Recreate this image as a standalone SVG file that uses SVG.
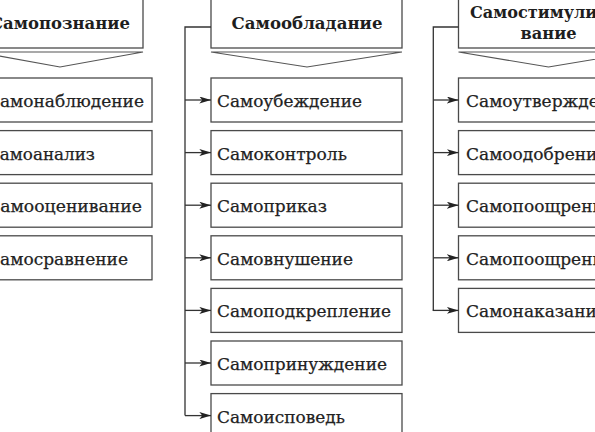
<svg xmlns="http://www.w3.org/2000/svg" width="595" height="432" viewBox="0 0 595 432">
<style>
.box{fill:#fff;stroke:#4a4a4a;stroke-width:1.3}
.chev{fill:none;stroke:#555;stroke-width:1.1;stroke-linejoin:miter}
.hd{font-family:"DejaVu Serif","Liberation Serif",serif;font-weight:bold;font-size:17px;fill:#1e1e1e}
.it{font-family:"DejaVu Serif","Liberation Serif",serif;font-size:17px;fill:#222;stroke:#222;stroke-width:0.25}
.ln{fill:none;stroke:#333;stroke-width:1.3}
.ar{fill:none;stroke:#333;stroke-width:1.3;marker-end:url(#ah)}
</style>
<defs>
<marker id="ah" viewBox="0 0 10 6" refX="10" refY="3" markerUnits="userSpaceOnUse" markerWidth="12" markerHeight="7" orient="auto">
<path d="M0,0 L10,3 L0,6 L2.5,3 z" fill="#222"/>
</marker>
</defs>
<rect width="595" height="432" fill="#fff"/>

<!-- Left column -->
<g id="samopoznanie">
<rect class="box" x="-23" y="-10" width="166" height="58"/>
<polygon class="chev" points="-23,52 143,52 60,67"/>
<text class="hd" x="-10" y="28.5" textLength="140" lengthAdjust="spacingAndGlyphs">Самопознание</text>
</g>
<g id="samonablyudenie">
<rect class="box" x="-40" y="78" width="192" height="44"/>
<text class="it" x="-13" y="107" textLength="157" lengthAdjust="spacingAndGlyphs">Самонаблюдение</text>
</g>
<g id="samoanaliz">
<rect class="box" x="-40" y="130.6" width="192" height="44"/>
<text class="it" x="-13" y="159.6" textLength="108" lengthAdjust="spacingAndGlyphs">Самоанализ</text>
</g>
<g id="samootsenivanie">
<rect class="box" x="-40" y="183.2" width="192" height="44"/>
<text class="it" x="-13" y="212.2" textLength="155" lengthAdjust="spacingAndGlyphs">Самооценивание</text>
</g>
<g id="samosravnenie">
<rect class="box" x="-40" y="235.8" width="192" height="44"/>
<text class="it" x="-13" y="264.8" textLength="141" lengthAdjust="spacingAndGlyphs">Самосравнение</text>
</g>

<!-- Middle column -->
<g id="samoobladanie">
<rect class="box" x="211" y="-10" width="191" height="58"/>
<polygon class="chev" points="211,52 402,52 307,67"/>
<text class="hd" x="307" y="28.5" text-anchor="middle" textLength="151" lengthAdjust="spacingAndGlyphs">Самообладание</text>
</g>
<g id="samoubezhdenie">
<rect class="box" x="211" y="78" width="191" height="44"/>
<text class="it" x="217" y="107" textLength="145" lengthAdjust="spacingAndGlyphs">Самоубеждение</text>
</g>
<g id="samokontrol">
<rect class="box" x="211" y="130.6" width="191" height="44"/>
<text class="it" x="217" y="159.6" textLength="130" lengthAdjust="spacingAndGlyphs">Самоконтроль</text>
</g>
<g id="samoprikaz">
<rect class="box" x="211" y="183.2" width="191" height="44"/>
<text class="it" x="217" y="212.2" textLength="110" lengthAdjust="spacingAndGlyphs">Самоприказ</text>
</g>
<g id="samovnushenie">
<rect class="box" x="211" y="235.8" width="191" height="44"/>
<text class="it" x="217" y="264.8" textLength="136" lengthAdjust="spacingAndGlyphs">Самовнушение</text>
</g>
<g id="samopodkreplenie">
<rect class="box" x="211" y="288.4" width="191" height="44"/>
<text class="it" x="217" y="317.4" textLength="174" lengthAdjust="spacingAndGlyphs">Самоподкрепление</text>
</g>
<g id="samoprinuzhdenie">
<rect class="box" x="211" y="341" width="191" height="44"/>
<text class="it" x="217" y="370" textLength="170" lengthAdjust="spacingAndGlyphs">Самопринуждение</text>
</g>
<g id="samoispoved">
<rect class="box" x="211" y="393.6" width="191" height="44"/>
<text class="it" x="217" y="422.6" textLength="128" lengthAdjust="spacingAndGlyphs">Самоисповедь</text>
</g>

<!-- Right column -->
<g id="samostimulirovanie">
<rect class="box" x="458.5" y="-10" width="180" height="58"/>
<polygon class="chev" points="458.5,52 638.5,52 548.5,67"/>
<text class="hd" x="470" y="17.5" textLength="156" lengthAdjust="spacingAndGlyphs">Самостимулиро-</text>
<text class="hd" x="548.5" y="38.5" text-anchor="middle" textLength="56" lengthAdjust="spacingAndGlyphs">вание</text>
</g>
<g id="samoutverzhdenie">
<rect class="box" x="458.5" y="78" width="191" height="44"/>
<text class="it" x="466" y="107">Самоутверждение</text>
</g>
<g id="samoodobrenie">
<rect class="box" x="458.5" y="130.6" width="191" height="44"/>
<text class="it" x="466" y="159.6">Самоодобрение</text>
</g>
<g id="samopooshchrenie1">
<rect class="box" x="458.5" y="183.2" width="191" height="44"/>
<text class="it" x="466" y="212.2">Самопоощрение</text>
</g>
<g id="samopooshchrenie2">
<rect class="box" x="458.5" y="235.8" width="191" height="44"/>
<text class="it" x="466" y="264.8">Самопоощрение</text>
</g>
<g id="samonakazanie">
<rect class="box" x="458.5" y="288.4" width="191" height="44"/>
<text class="it" x="466" y="317.4">Самонаказание</text>
</g>

<!-- Connectors -->
<g id="connectors">
<path class="ln" d="M211,27 H185 V415.6"/>
<path class="ar" d="M185,100 H211"/>
<path class="ar" d="M185,152.6 H211"/>
<path class="ar" d="M185,205.2 H211"/>
<path class="ar" d="M185,257.8 H211"/>
<path class="ar" d="M185,310.4 H211"/>
<path class="ar" d="M185,363 H211"/>
<path class="ar" d="M185,415.6 H211"/>
<path class="ln" d="M458.5,27 H433.3 V310.4"/>
<path class="ar" d="M433.3,100 H458.5"/>
<path class="ar" d="M433.3,152.6 H458.5"/>
<path class="ar" d="M433.3,205.2 H458.5"/>
<path class="ar" d="M433.3,257.8 H458.5"/>
<path class="ar" d="M432.7,310.4 H458.5"/>
</g>
</svg>
